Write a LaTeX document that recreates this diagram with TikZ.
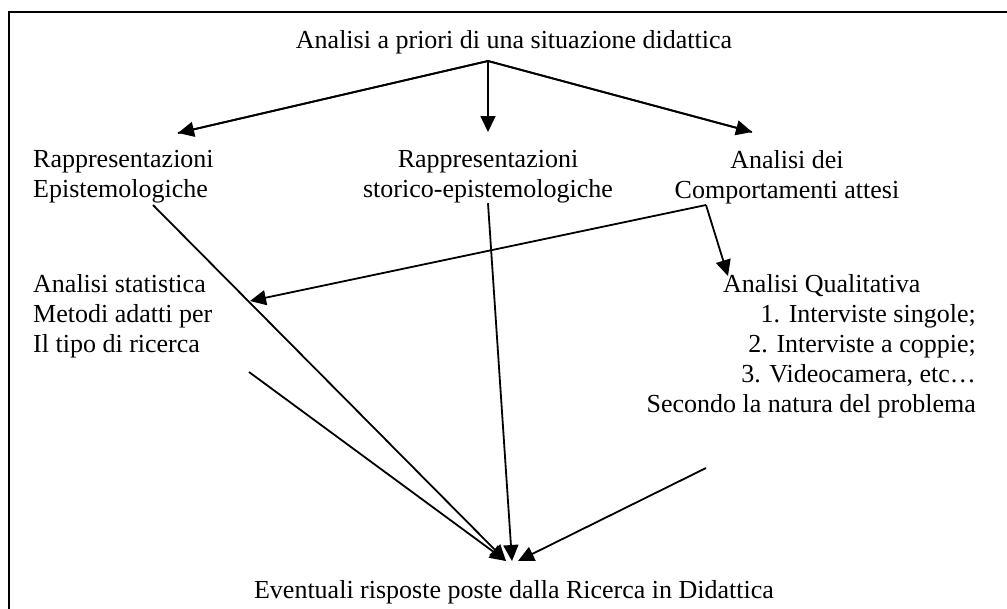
\documentclass[tikz,border=0pt]{standalone}
\usepackage{fontspec}
\setmainfont{Liberation Serif}
\usetikzlibrary{arrows.meta, positioning, calc}
\definecolor{inkline}{RGB}{0, 0, 0}
\tikzset{
  font=\fontsize{26}{30}\selectfont,
  textblock/.style={inner sep=0pt, align=left, text=inkline},
  framebox/.style={draw=inkline, line width=1.9pt},
  plainline/.style={draw=inkline, line width=1.8pt},
  flowline/.style={
    draw=inkline, -{Triangle[length=16pt, width=15pt]}, line width=1.8pt
  }
}
\begin{document}
\begin{tikzpicture}[x=1pt, y=-1pt]
  \useasboundingbox (0,0) rectangle (1007,608);
  \clip (0,0) rectangle (1007,608);

  % Outer frame (runs off the right and bottom edge)
  \draw[framebox] (9,640) |- (1040,12);

  % Top: starting point
  \node[textblock, anchor=base] (apriori) at (514,48) {Analisi a priori di una situazione didattica};

  % Row 1: three kinds of analysis
  \node[textblock, anchor=north west] (episte) at (33,150) {Rappresentazioni\\Epistemologiche};
  \node[textblock, anchor=north, align=center] (storico) at (488,150) {Rappresentazioni\\storico-epistemologiche};
  \node[textblock, anchor=north, align=center] (comport) at (787,150) {Analisi dei\\Comportamenti attesi};

  % Row 2: statistical vs qualitative analysis
  \node[textblock, anchor=north west] (statist) at (33,274) {Analisi statistica\\Metodi adatti per\\Il tipo di ricerca};
  \node[textblock, anchor=base west] (qual) at (723,292) {Analisi Qualitativa};
  \node[textblock, anchor=north east, align=right] (metodi) at (976,304) {1. Interviste singole;\\2. Interviste a coppie;\\3. Videocamera, etc…\\Secondo la natura del problema};

  % Bottom: outcome
  \node[textblock, anchor=base] (risposte) at (514,598) {Eventuali risposte poste dalla Ricerca in Didattica};

  % Connector ends
  \coordinate (split) at ([yshift=-13pt]apriori.base -| storico.north);
  \coordinate (episte-in) at (178,133);
  \coordinate (storico-in) at ([yshift=18pt]storico.north);
  \coordinate (comport-in) at (752,132);
  \coordinate (episte-out) at (153,205);
  \coordinate (comport-out) at (706,205);
  \coordinate (statist-in) at (250,301);
  \coordinate (qual-in) at (728,276);
  \coordinate (statist-out) at (249,372);
  \coordinate (metodi-out) at (706,468);
  \coordinate (hub) at (512,561);

  \draw[plainline] (episte-in) -- (split) -- (comport-in);
  \draw[flowline] (split) -- (episte-in);
  \draw[flowline] (split) -- (storico-in);
  \draw[flowline] (split) -- (comport-in);

  \draw[flowline] (comport-out) -- (statist-in);
  \draw[flowline] (comport-out) -- (qual-in);

  \draw[flowline] (episte-out) -- ([xshift=-6pt]hub);
  \draw[flowline] (storico.south) -- (hub);
  \draw[flowline] (statist-out) -- ([xshift=-6pt]hub);
  \draw[flowline] (metodi-out) -- ([xshift=6pt]hub);

\end{tikzpicture}
\end{document}
